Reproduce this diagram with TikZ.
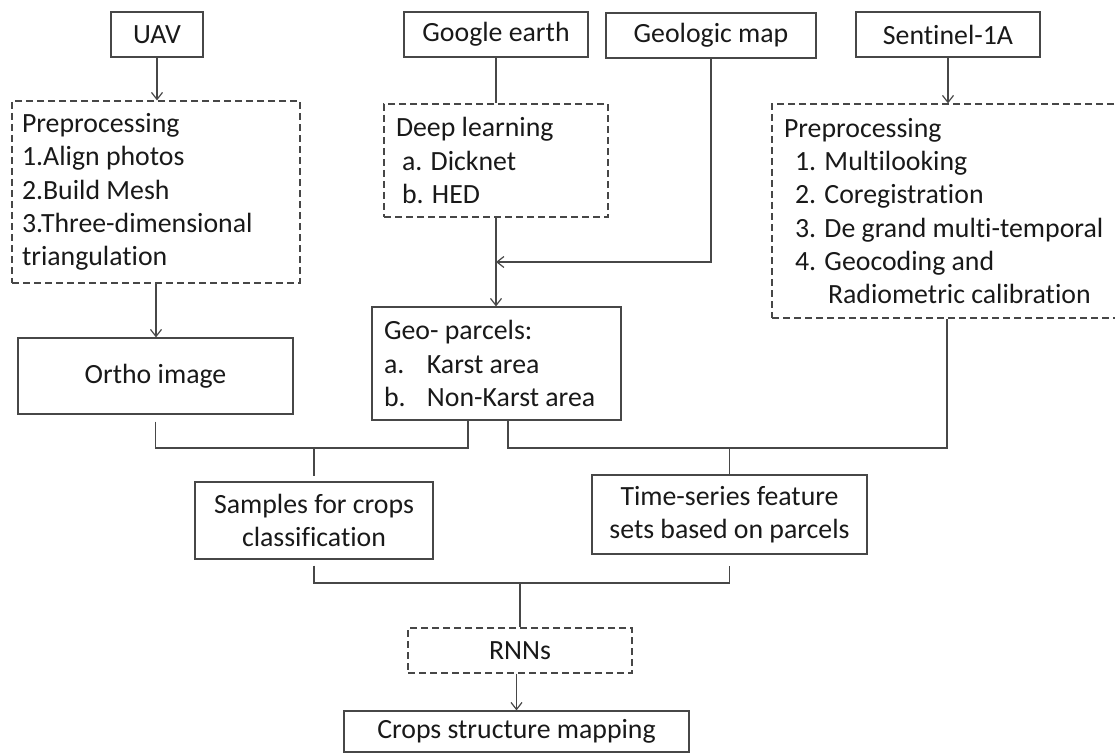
\documentclass[tikz,border=0pt]{standalone}
\usepackage{fontspec}
\setmainfont{Carlito}[RawFeature={-liga;-clig;-dlig;-calt}]
\usetikzlibrary{arrows.meta,calc}
\newcommand\natsp{\spaceskip=0pt \xspaceskip=0pt \relax}
\begin{document}
\begin{tikzpicture}[x=1pt,y=-1pt,
 every node/.style={font=\fontsize{27.8}{33.3}\selectfont, text=black!90},
 box/.style={draw=black!72, line width=1.2pt, inner sep=0pt, align=center},
 dbox/.style={box, dash pattern=on 7pt off 4pt},
 tbox/.style={align=flush left, inner ysep=0pt},
 ln/.style={draw=black!72, line width=1.2pt},
 arr/.style={ln, -{Straight Barb[length=7pt,width=11pt,line width=1.2pt]}},
]
\useasboundingbox (0,0) rectangle (1115,754);
\clip (0,0) rectangle (1115,754);

% top sources
\node[box, minimum width=92pt, minimum height=45pt] (uav) at (157,34.5) {UAV};
\node[box, minimum width=184pt, minimum height=45pt] (google) at (496,34.5) {Google earth};
\node[box, minimum width=210pt, minimum height=45pt] (geomap) at (711,35.5) {Geologic map};
\node[box, minimum width=184pt, minimum height=45pt] (sentinel) at (948,34.5) {Sentinel-1A};

% processing boxes
\node[dbox, tbox, inner xsep=10pt, text width=268pt, minimum height=182pt] (uavpre) at (156,192)
 {\natsp Preprocessing\\1.Align photos\\2.Build Mesh\\3.Three-dimensional\\triangulation};
\node[dbox, tbox, inner xsep=12pt, text width=200pt, minimum height=113pt] (deep) at (496,160.5)
 {\natsp Deep learning\\\hspace*{6pt}a. Dicknet\\\hspace*{6pt}b. HED};
\node[dbox, tbox, inner xsep=12pt, text width=326pt, minimum height=214pt] (sentpre) at (947,211)
 {\natsp Preprocessing\\\hspace*{11pt}1. Multilooking\\\hspace*{11pt}2. Coregistration\\\hspace*{11pt}3. De grand multi-temporal\\\hspace*{11pt}4. Geocoding and\\\hspace*{44pt}Radiometric calibration};

% middle
\node[box, minimum width=275pt, minimum height=76pt] (ortho) at (155.5,376) {Ortho image};
\node[box, tbox, inner xsep=12pt, text width=225pt, minimum height=113pt] (geo) at (496.5,363.5)
 {\natsp Geo- parcels:\\\makebox[43pt][l]{a.}Karst area\\\makebox[43pt][l]{b.}Non-Karst area};

\node[box, minimum width=238pt, minimum height=77pt] (samples) at (314,520.5) {Samples for crops\\classification};
\node[box, minimum width=275pt, minimum height=79pt] (ts) at (729.5,514.5) {Time-series feature\\sets based on parcels};

\node[dbox, minimum width=224pt, minimum height=45pt] (rnn) at (520,650.5) {RNNs};
\node[box, minimum width=345pt, minimum height=41pt] (crops) at (516.5,731.5) {Crops structure mapping};

% junction coordinates
\coordinate (ga) at (0,262);
\coordinate (j1) at (0,448);
\coordinate (j3) at (0,583);
\coordinate (gl) at ([xshift=-28.5pt]geo.south);
\coordinate (gr) at ([xshift=11.5pt]geo.south);

% top connectors
\draw[arr] (uav.south) -- (uav.south |- uavpre.north);
\draw[ln] (google.south) -- (deep.north);
\draw[arr] (sentinel.south) -- (sentinel.south |- sentpre.north);
\draw[arr] (deep.south) -- (deep.south |- geo.north);
\draw[arr] (geomap.south) |- (ga -| deep.south);
\draw[arr] (uavpre.south) -- (uavpre.south |- ortho.north);

% merge to samples
\draw[ln] ([yshift=-7pt]ortho.south) -- (ortho.south |- j1) -- (gl |- j1) -- (gl);
\draw[ln] (samples.north |- j1) -- ([yshift=5pt]samples.north);

% merge to time-series
\draw[ln] (gr) -- (gr |- j1) -- (sentpre.south |- j1) -- (sentpre.south);
\draw[ln] (ts.north |- j1) -- (ts.north);

% merge to RNNs
\draw[ln] ([yshift=-6pt]samples.south) -- (samples.south |- j3) -- (ts.south |- j3) -- ([yshift=-11pt]ts.south);
\draw[ln] (rnn.north |- j3) -- (rnn.north);
\draw[arr] (crops.north |- rnn.south) -- (crops.north);
\end{tikzpicture}
\end{document}
